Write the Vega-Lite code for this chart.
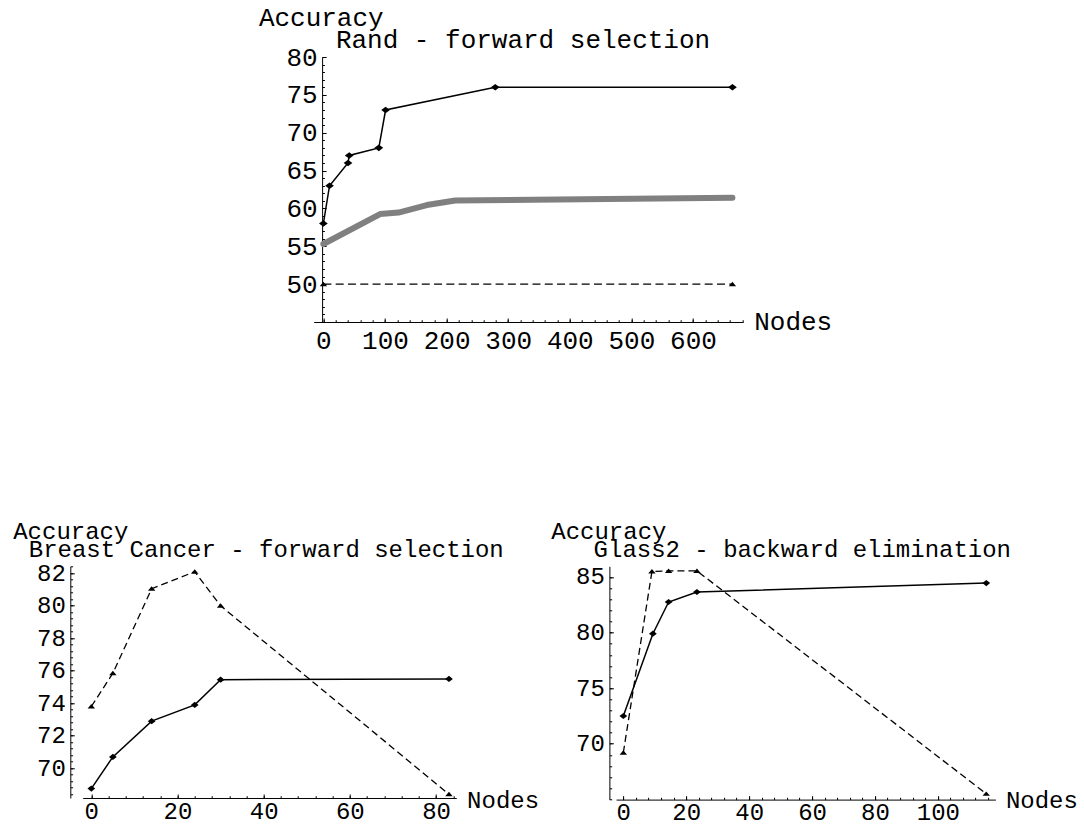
{
  "$schema": "https://vega.github.io/schema/vega-lite/v6.json",
  "autosize": {"type": "pad"},
  "padding": {"left": 12.7, "top": 4, "right": 0, "bottom": 0},
  "background": "white",
  "bounds": "flush",
  "spacing": 509.3,
  "config": {
    "view": {"stroke": null},
    "font": "Liberation Mono",
    "axis": {
      "grid": false, "domainColor": "black", "domainWidth": 1, "tickColor": "black", "tickWidth": 1,
      "labelColor": "black", "labelFont": "Liberation Mono", "labelFontSize": 24,
      "titleFont": "Liberation Mono", "titleFontSize": 24, "titleFontWeight": "normal", "titleColor": "black",
      "titleAlign": "left", "titleBaseline": "alphabetic", "titleAngle": 0,
      "labelFlush": false, "labelOverlap": false, "labelBound": false
    }
  },
  "datasets": {
    "top_solid": [
      {"nodes": 0, "accuracy": 58}, {"nodes": 10, "accuracy": 63}, {"nodes": 40, "accuracy": 66},
      {"nodes": 42, "accuracy": 67}, {"nodes": 90, "accuracy": 68}, {"nodes": 101, "accuracy": 73},
      {"nodes": 279, "accuracy": 76}, {"nodes": 664, "accuracy": 76}
    ],
    "top_gray": [
      {"nodes": 0, "accuracy": 55.3}, {"nodes": 92, "accuracy": 59.25}, {"nodes": 122, "accuracy": 59.45},
      {"nodes": 168, "accuracy": 60.45}, {"nodes": 214, "accuracy": 61.05}, {"nodes": 664, "accuracy": 61.4}
    ],
    "top_dashed": [
      {"nodes": 0, "accuracy": 50}, {"nodes": 664, "accuracy": 50}
    ],
    "bl_solid": [
      {"nodes": 0, "accuracy": 68.75}, {"nodes": 5, "accuracy": 70.7}, {"nodes": 14, "accuracy": 72.9},
      {"nodes": 24, "accuracy": 73.9}, {"nodes": 30, "accuracy": 75.45}, {"nodes": 83, "accuracy": 75.5}
    ],
    "bl_dashed": [
      {"nodes": 0, "accuracy": 73.8}, {"nodes": 5, "accuracy": 75.85}, {"nodes": 14, "accuracy": 81.05},
      {"nodes": 24, "accuracy": 82.1}, {"nodes": 30, "accuracy": 80}, {"nodes": 83, "accuracy": 68.4}
    ],
    "br_solid": [
      {"nodes": 0, "accuracy": 72.5}, {"nodes": 9.4, "accuracy": 79.9}, {"nodes": 14.4, "accuracy": 82.75},
      {"nodes": 23.4, "accuracy": 83.65}, {"nodes": 115.4, "accuracy": 84.45}
    ],
    "br_dashed": [
      {"nodes": 0, "accuracy": 69.2}, {"nodes": 9.1, "accuracy": 85.5}, {"nodes": 14.4, "accuracy": 85.55},
      {"nodes": 23.4, "accuracy": 85.55}, {"nodes": 115.4, "accuracy": 65.5}
    ]
  },
  "vconcat": [
    {
      "bounds": "flush",
      "spacing": 0,
      "hconcat": [
        {"width": 230.6, "height": 265, "data": {"values": []}, "mark": "point"},
        {
          "width": 429.4, "height": 265,
          "resolve": {"axis": {"x": "independent", "y": "independent"}},
          "layer": [
            {
              "data": {"name": "top_gray"},
              "mark": {"type": "line", "color": "#808080", "strokeWidth": 6, "strokeCap": "round", "strokeJoin": "round"},
              "encoding": {
                "x": {"field": "nodes", "type": "quantitative", "scale": {"domain": [-15.7, 681.3], "nice": false, "zero": false},
                  "axis": {"orient": "bottom", "values": [0, 100, 200, 300, 400, 500, 600], "tickSize": -4, "labelPadding": 9, "labelFontSize": 26,
                    "title": "Nodes", "titleX": 440, "titleY": 7.6, "titleFontSize": 26}},
                "y": {"field": "accuracy", "type": "quantitative", "scale": {"domain": [45, 80], "nice": false, "zero": false},
                  "axis": {"orient": "left", "offset": -8.4, "values": [50, 55, 60, 65, 70, 75, 80], "tickSize": -4, "labelPadding": 9, "labelFontSize": 26,
                    "title": "Accuracy", "titleX": -63.7, "titleY": -31.7, "titleAngle": 0, "titleAlign": "left", "titleBaseline": "alphabetic", "titleFontSize": 26}}
              }
            },
            {
              "data": {"name": "top_dashed"},
              "mark": {"type": "line", "color": "black", "strokeWidth": 1.3, "strokeDash": [8, 4.3]},
              "encoding": {
                "x": {"field": "nodes", "type": "quantitative", "scale": {"domain": [-15.7, 681.3], "nice": false, "zero": false},
                  "axis": {"orient": "bottom", "values": [0,20,40,60,80,100,120,140,160,180,200,220,240,260,280,300,320,340,360,380,400,420,440,460,480,500,520,540,560,580,600,620,640,660,680],
                    "tickSize": -2.3, "labels": false, "domain": false, "title": null}},
                "y": {"field": "accuracy", "type": "quantitative", "scale": {"domain": [45, 80], "nice": false, "zero": false},
                  "axis": {"orient": "left", "offset": -8.4, "values": [45,46,47,48,49,50,51,52,53,54,55,56,57,58,59,60,61,62,63,64,65,66,67,68,69,70,71,72,73,74,75,76,77,78,79,80],
                    "tickSize": -2.3, "labels": false, "domain": false,
                    "title": "Rand - forward selection", "titleX": 13.3, "titleY": -10, "titleAngle": 0, "titleAlign": "left", "titleBaseline": "alphabetic", "titleFontSize": 26}}
              }
            },
            {
              "data": {"name": "top_dashed"},
              "mark": {"type": "point", "shape": "M-1,0.55L0,-0.65L1,0.55Z", "size": 53, "filled": true, "color": "black", "opacity": 1},
              "encoding": {
                "x": {"field": "nodes", "type": "quantitative", "scale": {"domain": [-15.7, 681.3], "nice": false, "zero": false}, "axis": null},
                "y": {"field": "accuracy", "type": "quantitative", "scale": {"domain": [45, 80], "nice": false, "zero": false}, "axis": null}
              }
            },
            {
              "data": {"name": "top_solid"},
              "mark": {"type": "line", "color": "black", "strokeWidth": 1.5},
              "encoding": {
                "x": {"field": "nodes", "type": "quantitative", "scale": {"domain": [-15.7, 681.3], "nice": false, "zero": false}, "axis": null},
                "y": {"field": "accuracy", "type": "quantitative", "scale": {"domain": [45, 80], "nice": false, "zero": false}, "axis": null}
              }
            },
            {
              "data": {"name": "top_solid"},
              "mark": {"type": "point", "shape": "M-1,0L0,-0.75L1,0L0,0.75Z", "size": 76, "filled": true, "color": "black", "opacity": 1},
              "encoding": {
                "x": {"field": "nodes", "type": "quantitative", "scale": {"domain": [-15.7, 681.3], "nice": false, "zero": false}, "axis": null},
                "y": {"field": "accuracy", "type": "quantitative", "scale": {"domain": [45, 80], "nice": false, "zero": false}, "axis": null}
              }
            }
          ]
        }
      ]
    },
    {
      "bounds": "flush",
      "spacing": 159.4,
      "hconcat": [
        {
          "width": 373.6, "height": 231.7,
          "resolve": {"axis": {"x": "independent", "y": "independent"}},
          "layer": [
            {
              "data": {"name": "bl_solid"},
              "mark": {"type": "line", "color": "black", "strokeWidth": 1.5},
              "encoding": {
                "x": {"field": "nodes", "type": "quantitative", "scale": {"domain": [-2, 84.7], "nice": false, "zero": false},
                  "axis": {"orient": "bottom", "values": [0, 20, 40, 60, 80], "tickSize": -4, "labelPadding": 6,
                    "title": "Nodes", "titleX": 383.9, "titleY": 9.3}},
                "y": {"field": "accuracy", "type": "quantitative", "scale": {"domain": [68.17, 82.43], "nice": false, "zero": false},
                  "axis": {"orient": "left", "offset": 12.4, "values": [70, 72, 74, 76, 78, 80, 82], "tickSize": -4, "labelPadding": 9,
                    "title": "Accuracy", "titleX": -57.6, "titleY": -28.2, "titleAngle": 0, "titleAlign": "left", "titleBaseline": "alphabetic"}}
              }
            },
            {
              "data": {"name": "bl_dashed"},
              "mark": {"type": "line", "color": "black", "strokeWidth": 1.3, "strokeDash": [7, 4]},
              "encoding": {
                "x": {"field": "nodes", "type": "quantitative", "scale": {"domain": [-2, 84.7], "nice": false, "zero": false},
                  "axis": {"orient": "bottom", "values": [0,4,8,12,16,20,24,28,32,36,40,44,48,52,56,60,64,68,72,76,80,84],
                    "tickSize": -2.3, "labels": false, "domain": false, "title": null}},
                "y": {"field": "accuracy", "type": "quantitative", "scale": {"domain": [68.17, 82.43], "nice": false, "zero": false},
                  "axis": {"orient": "left", "offset": 12.4, "values": [68.4,68.8,69.2,69.6,70,70.4,70.8,71.2,71.6,72,72.4,72.8,73.2,73.6,74,74.4,74.8,75.2,75.6,76,76.4,76.8,77.2,77.6,78,78.4,78.8,79.2,79.6,80,80.4,80.8,81.2,81.6,82,82.4],
                    "tickSize": -2.3, "labels": false, "domain": false,
                    "title": "Breast Cancer - forward selection", "titleX": -42, "titleY": -9.3, "titleAngle": 0, "titleAlign": "left", "titleBaseline": "alphabetic"}}
              }
            },
            {
              "data": {"name": "bl_dashed"},
              "mark": {"type": "point", "shape": "M-1,0.55L0,-0.65L1,0.55Z", "size": 55, "filled": true, "color": "black", "opacity": 1},
              "encoding": {
                "x": {"field": "nodes", "type": "quantitative", "scale": {"domain": [-2, 84.7], "nice": false, "zero": false}, "axis": null},
                "y": {"field": "accuracy", "type": "quantitative", "scale": {"domain": [68.17, 82.43], "nice": false, "zero": false}, "axis": null}
              }
            },
            {
              "data": {"name": "bl_solid"},
              "mark": {"type": "point", "shape": "M-1,0L0,-0.8L1,0L0,0.8Z", "size": 60, "filled": true, "color": "black", "opacity": 1},
              "encoding": {
                "x": {"field": "nodes", "type": "quantitative", "scale": {"domain": [-2, 84.7], "nice": false, "zero": false}, "axis": null},
                "y": {"field": "accuracy", "type": "quantitative", "scale": {"domain": [68.17, 82.43], "nice": false, "zero": false}, "axis": null}
              }
            }
          ]
        },
        {
          "width": 379.3, "height": 233.3,
          "resolve": {"axis": {"x": "independent", "y": "independent"}},
          "layer": [
            {
              "data": {"name": "br_solid"},
              "mark": {"type": "line", "color": "black", "strokeWidth": 1.5},
              "encoding": {
                "x": {"field": "nodes", "type": "quantitative", "scale": {"domain": [-2.3, 118.3], "nice": false, "zero": false},
                  "axis": {"orient": "bottom", "values": [0, 20, 40, 60, 80, 100], "tickSize": -4, "labelPadding": 5,
                    "title": "Nodes", "titleX": 389.3, "titleY": 7.7}},
                "y": {"field": "accuracy", "type": "quantitative", "scale": {"domain": [64.98, 85.96], "nice": false, "zero": false},
                  "axis": {"orient": "left", "offset": 6.7, "values": [70, 75, 80, 85], "tickSize": -4, "labelPadding": 9,
                    "title": "Accuracy", "titleX": -58.6, "titleY": -28, "titleAngle": 0, "titleAlign": "left", "titleBaseline": "alphabetic"}}
              }
            },
            {
              "data": {"name": "br_dashed"},
              "mark": {"type": "line", "color": "black", "strokeWidth": 1.3, "strokeDash": [7, 4]},
              "encoding": {
                "x": {"field": "nodes", "type": "quantitative", "scale": {"domain": [-2.3, 118.3], "nice": false, "zero": false},
                  "axis": {"orient": "bottom", "values": [0,4,8,12,16,20,24,28,32,36,40,44,48,52,56,60,64,68,72,76,80,84,88,92,96,100,104,108,112,116],
                    "tickSize": -2.3, "labels": false, "domain": false, "title": null}},
                "y": {"field": "accuracy", "type": "quantitative", "scale": {"domain": [64.98, 85.96], "nice": false, "zero": false},
                  "axis": {"orient": "left", "offset": 6.7, "values": [65,66,67,68,69,70,71,72,73,74,75,76,77,78,79,80,81,82,83,84,85],
                    "tickSize": -2.3, "labels": false, "domain": false,
                    "title": "Glass2 - backward elimination", "titleX": -16.3, "titleY": -9.3, "titleAngle": 0, "titleAlign": "left", "titleBaseline": "alphabetic"}}
              }
            },
            {
              "data": {"name": "br_dashed"},
              "mark": {"type": "point", "shape": "M-1,0.55L0,-0.65L1,0.55Z", "size": 55, "filled": true, "color": "black", "opacity": 1},
              "encoding": {
                "x": {"field": "nodes", "type": "quantitative", "scale": {"domain": [-2.3, 118.3], "nice": false, "zero": false}, "axis": null},
                "y": {"field": "accuracy", "type": "quantitative", "scale": {"domain": [64.98, 85.96], "nice": false, "zero": false}, "axis": null}
              }
            },
            {
              "data": {"name": "br_solid"},
              "mark": {"type": "point", "shape": "M-1,0L0,-0.8L1,0L0,0.8Z", "size": 60, "filled": true, "color": "black", "opacity": 1},
              "encoding": {
                "x": {"field": "nodes", "type": "quantitative", "scale": {"domain": [-2.3, 118.3], "nice": false, "zero": false}, "axis": null},
                "y": {"field": "accuracy", "type": "quantitative", "scale": {"domain": [64.98, 85.96], "nice": false, "zero": false}, "axis": null}
              }
            }
          ]
        }
      ]
    }
  ]
}
